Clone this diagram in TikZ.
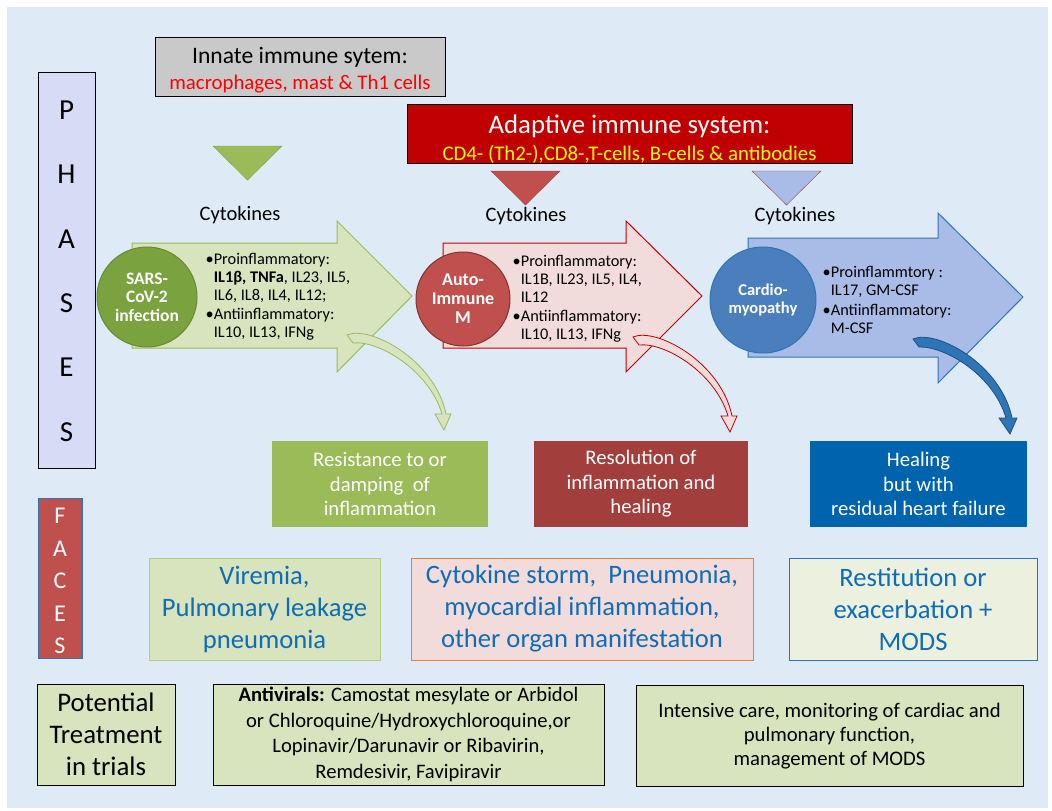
\documentclass[tikz,border=0pt]{standalone}
\usepackage{fontspec}
\setmainfont{Carlito}
\usetikzlibrary{positioning}

\definecolor{bgblue}{HTML}{DEEBF7}
\definecolor{phaselav}{HTML}{D6DCF5}
\definecolor{innategray}{HTML}{C9C9C9}
\definecolor{adaptred}{HTML}{C00000}
\definecolor{gmid}{HTML}{9BBB59}
\definecolor{gdark}{HTML}{7AA23F}
\definecolor{glight}{HTML}{D7E4BD}
\definecolor{gpale}{HTML}{EBF1DE}
\definecolor{rmid}{HTML}{C0504D}
\definecolor{rdark}{HTML}{A23E3B}
\definecolor{rlight}{HTML}{F2DCDB}
\definecolor{bmid}{HTML}{4A7EBD}
\definecolor{bline}{HTML}{2E75B6}
\definecolor{blight}{HTML}{A9BCE8}
\definecolor{bdeep}{HTML}{0063AD}
\definecolor{txtblue}{HTML}{0F6CB6}
\definecolor{orangeline}{HTML}{ED7D31}
\definecolor{yell}{HTML}{FFFF00}

\newcommand{\fsz}[2]{\fontsize{#1}{#2}\selectfont}
% curved arrow: shift, style, band width
\newcommand{\bendarrow}[3]{%
\path[#2, shift={(#1)}] (347,335) .. controls (370,325) and (435,360) .. (446,414)
  -- (451,414) -- (444,430) -- (439-#3,414) -- (446-#3,414)
  .. controls (433-#3,370) and (378,336+#3) .. (353,343) -- cycle;}

\begin{document}
\begin{tikzpicture}
[
x=1pt, y=-1pt,
box-a/.style={rectangle, draw, align=center, inner sep=0pt},
phase-l/.style={font=\fsz{29}{31}},
face-l/.style={font=\fsz{24}{26}, text=white},
cyto-l/.style={font=\fsz{20.5}{23}},
circ-a/.style={circle, draw, line width=1pt, text=white, align=center, inner sep=0pt, font=\bfseries\fsz{17.5}{18.5}},
list-a/.style={align=left, inner sep=0pt, font=\fsz{16.3}{18}},
result-a/.style={rectangle, align=center, inner sep=0pt, text=white, minimum height=86pt, font=\fsz{20.7}{24.5}},
face-box/.style={box-a, line width=1pt, text=txtblue, minimum height=102pt, font=\fsz{26.6}{32}},
treat-box/.style={box-a, fill=glight, minimum height=101pt},
]
% background
\fill[white] (0,0) rectangle (1052,811);
\fill[bgblue] (7,7) rectangle (1048,808);

% phases and faces columns
\node (phases) [box-a, fill=phaselav, minimum width=57pt, minimum height=396pt] at (66.5,270) {};
\foreach \l [count=\i] in {P,H,A,S,E,S}
  \node (ph\i) [phase-l] at (66.5,110+64.4*\i-64.4) {\l};
\node (faces) [box-a, draw=bline, fill=rmid, minimum width=44pt, minimum height=160pt] at (60,578) {};
\foreach \l [count=\i] in {F,A,C,E,S}
  \node (fa\i) [face-l] at (60,516+32.5*\i-32.5) {\l};

% immune systems
\node (innate) [box-a, fill=innategray, minimum width=290pt, minimum height=59pt] at (300,66.5)
  {\rule{0pt}{24pt}{\fsz{23.6}{26}Innate immune sytem:}\\[7pt]{\fsz{20.8}{26}\color{red}macrophages, mast \& Th1 cells}};
\node (adapt) [box-a, fill=adaptred, minimum width=445pt, minimum height=59pt] at (629.5,133.5)
  {\rule{0pt}{30pt}{\fsz{26.8}{27}\color{white}Adaptive immune system:}\\[6pt]{\fsz{20.8}{27}\color{yell}CD4- (Th2-),CD8-,T-cells, B-cells \& antibodies}};

% triangles
\draw[fill=gmid, draw=gdark] (213,146) -- (282,146) -- (247.5,180) -- cycle;
\draw[fill=rmid, draw=rdark] (491,171) -- (560,171) -- (525.5,205) -- cycle;
\draw[fill=blight, draw=rdark] (752,171) -- (821,171) -- (786.5,205) -- cycle;
\node (cy1) [cyto-l] at (240,215) {Cytokines};
\node (cy2) [cyto-l] at (526,216) {Cytokines};
\node (cy3) [cyto-l] at (795,216) {Cytokines};

% big arrows
\draw[fill=glight, draw=gmid, line width=1pt] (132,243) -- (337,243) -- (337,221) -- (412,296)
  -- (337,372) -- (337,348) -- (132,348) -- cycle;
\draw[fill=rlight, draw=adaptred, line width=1pt] (443,243) -- (626,243) -- (626,221) -- (702,296)
  -- (626,372) -- (626,348) -- (443,348) -- cycle;
\draw[fill=blight, draw=bline, line width=1pt] (748,238) -- (938,238) -- (938,213) -- (1023,297)
  -- (938,383) -- (938,357) -- (748,357) -- cycle;

% phase circles
\node (c1) [circ-a, fill=gdark, draw=gdark!85!black, minimum size=100pt] at (147,297) {SARS-\\CoV-2\\infection};
\node (c2) [circ-a, fill=rmid, draw=rdark!80!black, minimum size=94pt, font=\bfseries\fsz{18}{19}] at (463,299) {Auto-\\Immune\\M};
\node (c3) [circ-a, fill=bmid, draw=bline, minimum size=106pt, font=\bfseries\fsz{16.5}{17.5}] at (763,300) {Cardio-\\myopathy};

% cytokine lists
\node (t1) [list-a, right=8pt of c1] {\textbullet Proinflammatory:\\
  \phantom{\textbullet}\textbf{IL1β, TNFa}, IL23, IL5,\\
  \phantom{\textbullet}IL6, IL8, IL4, IL12;\\[1pt]
  \textbullet Antiinflammatory:\\
  \phantom{\textbullet}IL10, IL13, IFNg};
\node (t2) [list-a, right=2pt of c2] {\textbullet Proinflammatory:\\
  \phantom{\textbullet}IL1B, IL23, IL5, IL4,\\
  \phantom{\textbullet}IL12\\[1pt]
  \textbullet Antiinflammatory:\\
  \phantom{\textbullet}IL10, IL13, IFNg};
\node (t3) [list-a, right=6pt of c3] {\textbullet Proinflammtory :\\
  \phantom{\textbullet}IL17, GM-CSF\\[2pt]
  \textbullet Antiinflammatory:\\
  \phantom{\textbullet}M-CSF};

% curved arrows
\bendarrow{0,0}{fill=glight, draw=gmid, line width=0.8pt}{4}
\bendarrow{286,2}{fill=rlight, draw=adaptred, line width=0.8pt}{4}
\bendarrow{566,4}{fill=bline, draw=bline!70!black, line width=0.8pt}{6}

% outcomes
\node (r1) [result-a, fill=gmid, minimum width=216pt] at (380,484) {Resistance to or\\damping~ of\\inflammation};
\node (r2) [result-a, fill=rdark, minimum width=214pt] at (641,484) {Resolution of\\inflammation and\\healing};
\node (r3) [result-a, fill=bdeep, minimum width=217pt] at (918.5,484) {Healing\\but with\\residual heart failure};

% faces
\node (f1) [face-box, fill=glight, draw=gmid!75, minimum width=231pt] at (264.5,609) {Viremia,\\Pulmonary leakage\\pneumonia};
\node (f2) [face-box, fill=rlight, draw=orangeline, minimum width=342pt] at (582,609) {Cytokine storm,~ Pneumonia,\\myocardial inflammation,\\other organ manifestation};
\node (f3) [face-box, fill=gpale, draw=bline, minimum width=248pt] at (913,609) {Restitution or\\exacerbation +\\MODS};

% treatment
\node (tr0) [treat-box, minimum width=138pt, font=\fsz{26.8}{32}] at (106,734.5) {Potential\\Treatment\\in trials};
\node (tr1) [treat-box, minimum width=391pt, font=\fsz{20.6}{25.7}] at (408.5,734.5)
  {\textbf{Antivirals:} Camostat mesylate or Arbidol\\or Chloroquine/Hydroxychloroquine,or\\Lopinavir/Darunavir or Ribavirin,\\Remdesivir, Favipiravir};
\node (tr2) [treat-box, minimum width=387pt, font=\fsz{20.7}{24}] at (829.5,736)
  {Intensive care, monitoring of cardiac and\\pulmonary function,\\management of MODS};
\end{tikzpicture}
\end{document}
